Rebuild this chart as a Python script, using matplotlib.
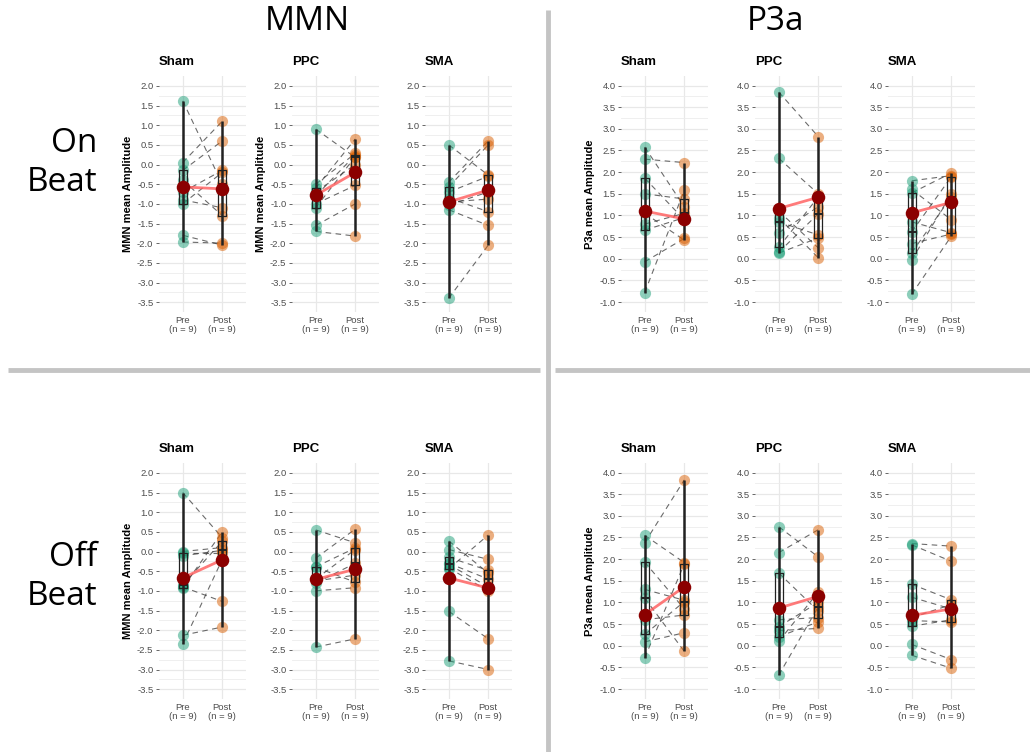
import matplotlib.pyplot as plt
import numpy as np

# ---- data: (pre, post) per subject, in subject order ----
mmn_on_sham_pre = [1.62, 0.05, -0.15, -0.4, -0.7, -0.9, -1.0, -1.8, -1.97]
mmn_on_sham_post = [-0.5, 1.1, 0.6, -1.3, -0.15, -1.1, -0.2, -2.05, -2.0]
mmn_on_ppc_pre = [0.9, -0.5, -0.6, -0.7, -0.8, -1.0, -1.1, -1.55, -1.7]
mmn_on_ppc_post = [0.18, 0.28, 0.65, 0.0, 0.24, -0.53, 0.2, -1.0, -1.82]
mmn_on_sma_pre = [0.5, -0.45, -0.57, -0.7, -0.85, -0.95, -1.03, -1.15, -3.4]
mmn_on_sma_post = [-0.27, 0.6, 0.5, -0.3, -1.2, -0.88, -0.7, -1.55, -2.05]

mmn_off_sham_pre = [1.5, 0.0, -0.05, -0.11, -0.85, -0.9, -0.92, -2.13, -2.35]
mmn_off_sham_post = [0.35, 0.1, -0.05, 0.03, 0.26, -1.27, 0.5, -1.92, -0.2]
mmn_off_ppc_pre = [0.55, -0.17, -0.39, -0.4, -0.7, -0.75, -0.8, -1.0, -2.43]
mmn_off_ppc_post = [0.22, 0.57, 0.09, -0.78, 0.05, -0.6, -0.3, -0.92, -2.22]
mmn_off_sma_pre = [0.27, 0.05, -0.15, -0.3, -0.33, -0.42, -0.44, -1.52, -2.78]
mmn_off_sma_post = [-0.55, -0.2, -0.48, -0.7, -0.9, -1.0, 0.42, -2.22, -3.0]

p3a_on_sham_pre = [2.58, 2.3, 1.86, 1.5, 1.05, 0.8, 0.66, -0.07, -0.78]
p3a_on_sham_post = [1.2, 2.22, 0.9, 1.38, 0.43, 1.05, 0.95, 0.47, 1.58]
p3a_on_ppc_pre = [3.85, 2.32, 1.1, 0.95, 0.85, 0.6, 0.26, 0.15, 0.13]
p3a_on_ppc_post = [2.82, 1.5, 0.25, 0.02, 0.55, 1.2, 1.43, 1.04, 0.48]
p3a_on_sma_pre = [1.8, 1.6, 1.52, 0.85, 0.62, 0.35, 0.14, -0.03, -0.82]
p3a_on_sma_post = [1.92, 0.9, 1.98, 0.6, 1.89, 0.57, 1.43, 1.5, 0.52]

p3a_off_sham_pre = [2.55, 2.38, 1.93, 1.3, 1.1, 0.6, 0.26, 0.09, -0.28]
p3a_off_sham_post = [1.92, 3.83, 0.85, 1.05, -0.13, 0.71, 1.02, 0.3, 1.89]
p3a_off_ppc_pre = [2.75, 2.15, 1.68, 0.6, 0.44, 0.35, 0.21, 0.1, -0.68]
p3a_off_ppc_post = [2.05, 2.68, 0.8, 0.65, 1.0, 0.4, 0.55, 1.24, 0.9]
p3a_off_sma_pre = [2.36, 2.33, 1.42, 1.12, 0.65, 0.58, 0.45, 0.03, -0.22]
p3a_off_sma_post = [2.3, 1.95, 1.06, 0.85, 0.95, 0.55, 0.6, -0.32, -0.52]

# group means as shown (pre, post) for Sham, PPC, SMA
mmn_on_means = [(-0.57, -0.62), (-0.78, -0.20), (-0.95, -0.65)]
mmn_off_means = [(-0.67, -0.21), (-0.71, -0.45), (-0.67, -0.93)]
p3a_on_means = [(1.10, 0.92), (1.16, 1.42), (1.06, 1.30)]
p3a_off_means = [(0.72, 1.36), (0.87, 1.14), (0.70, 0.85)]

groups = ["Sham", "PPC", "SMA"]
conditions = ["Pre\n(n = 9)", "Post\n(n = 9)"]
mmn_ticks = np.arange(-3.5, 2.01, 0.5)
p3a_ticks = np.arange(-1.0, 4.01, 0.5)

W, H = 1030, 752
PANEL = "Liberation Sans"


def draw_panel(x0, y0, pre, post, mean, title, ticks, ylim, ylabel):
    ax = fig.add_axes([x0 / W, 1 - (y0 + 236) / H, 87 / W, 236 / H])
    ax.set_xlim(0.4, 2.6)
    ax.set_ylim(*ylim)
    for s in ax.spines.values():
        s.set_visible(False)
    ax.set_yticks(ticks)
    ax.set_yticks(ticks[:-1] + 0.25, minor=True)
    ax.set_yticklabels(["%.1f" % t for t in ticks], fontsize=6.8, color="#4d4d4d", family=PANEL)
    ax.tick_params(axis="y", which="major", length=2.5, width=0.6, color="#4d4d4d", pad=1.5)
    ax.tick_params(axis="y", which="minor", length=0)
    ax.tick_params(axis="x", length=0, pad=3)
    ax.grid(True, which="major", color="#e8e8e8", lw=0.9, zorder=0)
    ax.grid(True, which="minor", axis="y", color="#ececec", lw=0.6, zorder=0)
    ax.set_axisbelow(True)

    # subject lines
    for a, b in zip(pre, post):
        ax.plot([1, 2], [a, b], ls=(0, (5, 4)), color="#3a3a3a", lw=0.8, alpha=0.75, zorder=2)
    # points
    ax.scatter(np.ones(len(pre)), pre, s=65, color="#1b9e77", alpha=0.5, lw=0, zorder=3)
    ax.scatter(np.full(len(post), 2), post, s=65, color="#d95f02", alpha=0.5, lw=0, zorder=3)
    # range lines + boxes
    for xi, vals in [(1, pre), (2, post)]:
        ax.vlines(xi, min(vals), max(vals), color="#222222", lw=1.8, zorder=4)
    ax.boxplot([pre, post], positions=[1, 2], widths=0.2, whis=(0, 100), showcaps=False,
               patch_artist=False, zorder=4,
               boxprops=dict(color="#222222", lw=0.9),
               medianprops=dict(color="#222222", lw=1.4),
               whiskerprops=dict(lw=0), flierprops=dict(marker=""))
    ax.set_xticks([1, 2])
    ax.set_xticklabels(conditions, fontsize=6.8, color="#4d4d4d", family=PANEL, linespacing=1.0)
    # means
    ax.plot([1, 2], mean, color="#ff5a5a", lw=2, alpha=0.8, zorder=5)
    ax.scatter([1, 2], mean, s=95, color="#8b0000", zorder=6, lw=0)

    ax.text(0, 1 + 14 / 236, title, transform=ax.transAxes, fontsize=9.5, fontweight="bold",
            family=PANEL, va="center", ha="left")
    if ylabel:
        ax.set_ylabel(ylabel, fontsize=8, fontweight="bold", family=PANEL)
        ax.yaxis.set_label_coords(-26 / 87, 0.5)
    return ax


fig = plt.figure(figsize=(W / 100, H / 100), dpi=100)

left_x = [159, 292, 425]
right_x = [621, 755, 888]
top_y, bot_y = 76, 463
mmn_lim = (-3.75, 2.25)
p3a_lim = (-1.23, 4.22)

mmn_on = [(mmn_on_sham_pre, mmn_on_sham_post), (mmn_on_ppc_pre, mmn_on_ppc_post),
          (mmn_on_sma_pre, mmn_on_sma_post)]
mmn_off = [(mmn_off_sham_pre, mmn_off_sham_post), (mmn_off_ppc_pre, mmn_off_ppc_post),
           (mmn_off_sma_pre, mmn_off_sma_post)]
p3a_on = [(p3a_on_sham_pre, p3a_on_sham_post), (p3a_on_ppc_pre, p3a_on_ppc_post),
          (p3a_on_sma_pre, p3a_on_sma_post)]
p3a_off = [(p3a_off_sham_pre, p3a_off_sham_post), (p3a_off_ppc_pre, p3a_off_ppc_post),
           (p3a_off_sma_pre, p3a_off_sma_post)]

for i, g in enumerate(groups):
    lab = "MMN mean Amplitude" if i < 2 else None
    draw_panel(left_x[i], top_y, mmn_on[i][0], mmn_on[i][1], mmn_on_means[i], g,
               mmn_ticks, mmn_lim, lab)
    lab = "MMN mean Amplitude" if i == 0 else None
    draw_panel(left_x[i], bot_y, mmn_off[i][0], mmn_off[i][1], mmn_off_means[i], g,
               mmn_ticks, mmn_lim, lab)
    lab = "P3a mean Amplitude" if i == 0 else None
    draw_panel(right_x[i], top_y, p3a_on[i][0], p3a_on[i][1], p3a_on_means[i], g,
               p3a_ticks, p3a_lim, lab)
    draw_panel(right_x[i], bot_y, p3a_off[i][0], p3a_off[i][1], p3a_off_means[i], g,
               p3a_ticks, p3a_lim, lab)

# big headers and row labels
big = dict(fontsize=24, family="Open Sans", transform=fig.transFigure)
fig.text(307 / W, 1 - 22 / H, "MMN", ha="center", va="center", **big)
fig.text(775 / W, 1 - 22 / H, "P3a", ha="center", va="center", **big)
fig.text(97 / W, 1 - 163 / H, "On\nBeat", ha="right", va="center", linespacing=1.25, **big)
fig.text(97 / W, 1 - 577 / H, "Off\nBeat", ha="right", va="center", linespacing=1.25, **big)

# quadrant separators
sep = dict(color="#c4c4c4", lw=3.5, transform=fig.transFigure, solid_capstyle="butt")
fig.add_artist(plt.Line2D([548 / W, 548 / W], [0, 1 - 10 / H], **sep))
fig.add_artist(plt.Line2D([8 / W, 540 / W], [1 - 370 / H, 1 - 370 / H], **sep))
fig.add_artist(plt.Line2D([555 / W, 1], [1 - 370 / H, 1 - 370 / H], **sep))

plt.savefig("out.png", dpi=100)
